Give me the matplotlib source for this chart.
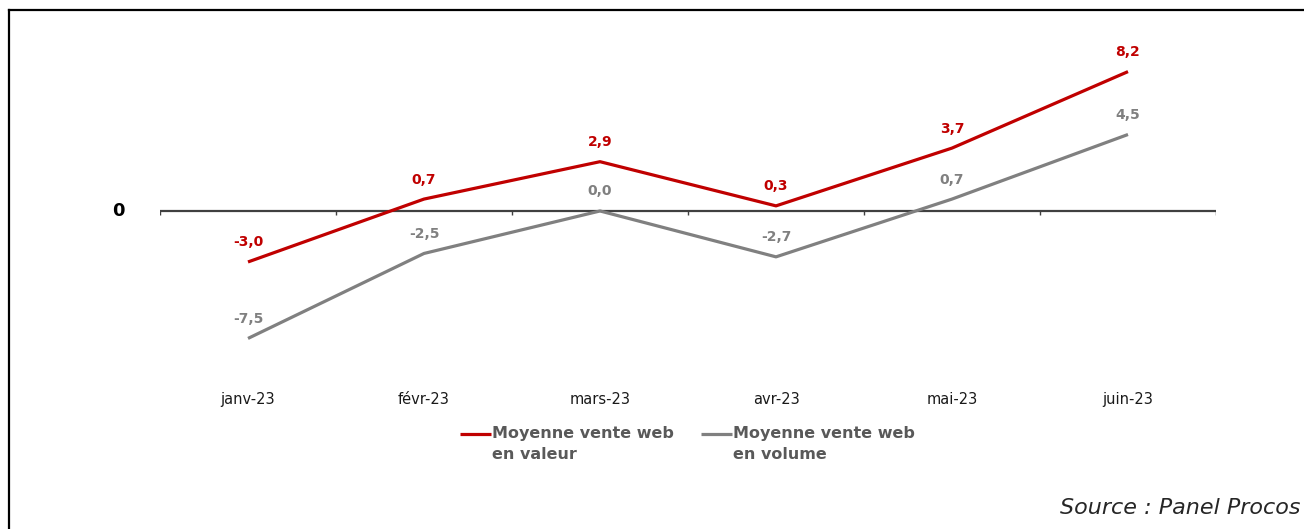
import matplotlib
matplotlib.use("Agg")
import matplotlib.pyplot as plt
from matplotlib.lines import Line2D
from matplotlib.legend_handler import HandlerLine2D

months = ["janv-23", "févr-23", "mars-23", "avr-23", "mai-23", "juin-23"]
valeur = [-3.0, 0.7, 2.9, 0.3, 3.7, 8.2]
volume = [-7.5, -2.5, 0.0, -2.7, 0.7, 4.5]
label_valeur = "Moyenne vente web\nen valeur"
label_volume = "Moyenne vente web\nen volume"
source = "Source : Panel Procos"

RED = "#C00000"
GRAY = "#808080"

plt.rcParams['font.family'] = ['DejaVu Sans']

W, H = 1304, 529
fig = plt.figure(figsize=(W / 100, H / 100), dpi=100)

# frame (top and left)
fig.add_artist(Line2D([9 / W, 9 / W], [0, 1 - 10 / H], color="black", lw=1.6, transform=fig.transFigure))
fig.add_artist(Line2D([9 / W, 1], [1 - 10 / H, 1 - 10 / H], color="black", lw=1.6, transform=fig.transFigure))

ax = fig.add_axes([160 / W, 1 - 385 / H, (1216 - 160) / W, (385 - 40) / H])
x = list(range(len(months)))
ax.set_xlim(-0.5, len(months) - 0.5)
ax.set_ylim(-10.24, 10.06)
for s in ax.spines.values():
    s.set_visible(False)
ax.set_yticks([])
ax.set_xticks(x)
ax.set_xticklabels(months, fontsize=10.5, color="#1a1a1a")
ax.tick_params(axis="x", length=0, pad=5)

# zero axis with boundary ticks
ax.axhline(0, color="#404040", lw=1.6, zorder=1)
bounds = [i - 0.5 for i in range(len(months) + 1)]
ax.vlines(bounds, -0.22, 0, color="#404040", lw=1.0, zorder=1)
fig.text(118 / W, 1 - 211 / H, "0", ha="center", va="center",
         fontsize=13, fontweight="bold", color="black")

l1, = ax.plot(x, valeur, color=RED, lw=2.3, label=label_valeur, zorder=3, solid_capstyle="butt")
l2, = ax.plot(x, volume, color=GRAY, lw=2.3, label=label_volume, zorder=2, solid_capstyle="butt")

for xi, v in zip(x, valeur):
    ax.annotate(f"{v:.1f}".replace(".", ","), (xi, v), xytext=(0, 9), textcoords="offset points",
                ha="center", va="bottom", fontsize=10, fontweight="bold", color=RED)
for xi, v in zip(x, volume):
    ax.annotate(f"{v:.1f}".replace(".", ","), (xi, v), xytext=(0, 9), textcoords="offset points",
                ha="center", va="bottom", fontsize=10, fontweight="bold", color=GRAY)


class TopLineHandler(HandlerLine2D):
    def create_artists(self, legend, orig_handle, xdescent, ydescent, width, height, fontsize, trans):
        arts = super().create_artists(legend, orig_handle, xdescent, ydescent, width, height, fontsize, trans)
        for a in arts:
            yd = a.get_ydata()
            a.set_ydata([y + 7.5 for y in yd])
        return arts


leg = fig.legend(handles=[l1, l2], loc="upper left", bbox_to_anchor=(454 / W, 1 - 420 / H),
                 ncol=2, frameon=False, handlelength=1.9, handletextpad=0.1, columnspacing=1.7,
                 prop={"size": 11.5, "weight": "bold"}, labelcolor="#595959", borderaxespad=0,
                 handler_map={Line2D: TopLineHandler()})
for t in leg.get_texts():
    t.set_linespacing(1.45)

fig.text(1300 / W, 1 - 508 / H, source, ha="right", va="center", fontsize=16, style="italic", color="#262626")

fig.savefig("out.png", dpi=100)
